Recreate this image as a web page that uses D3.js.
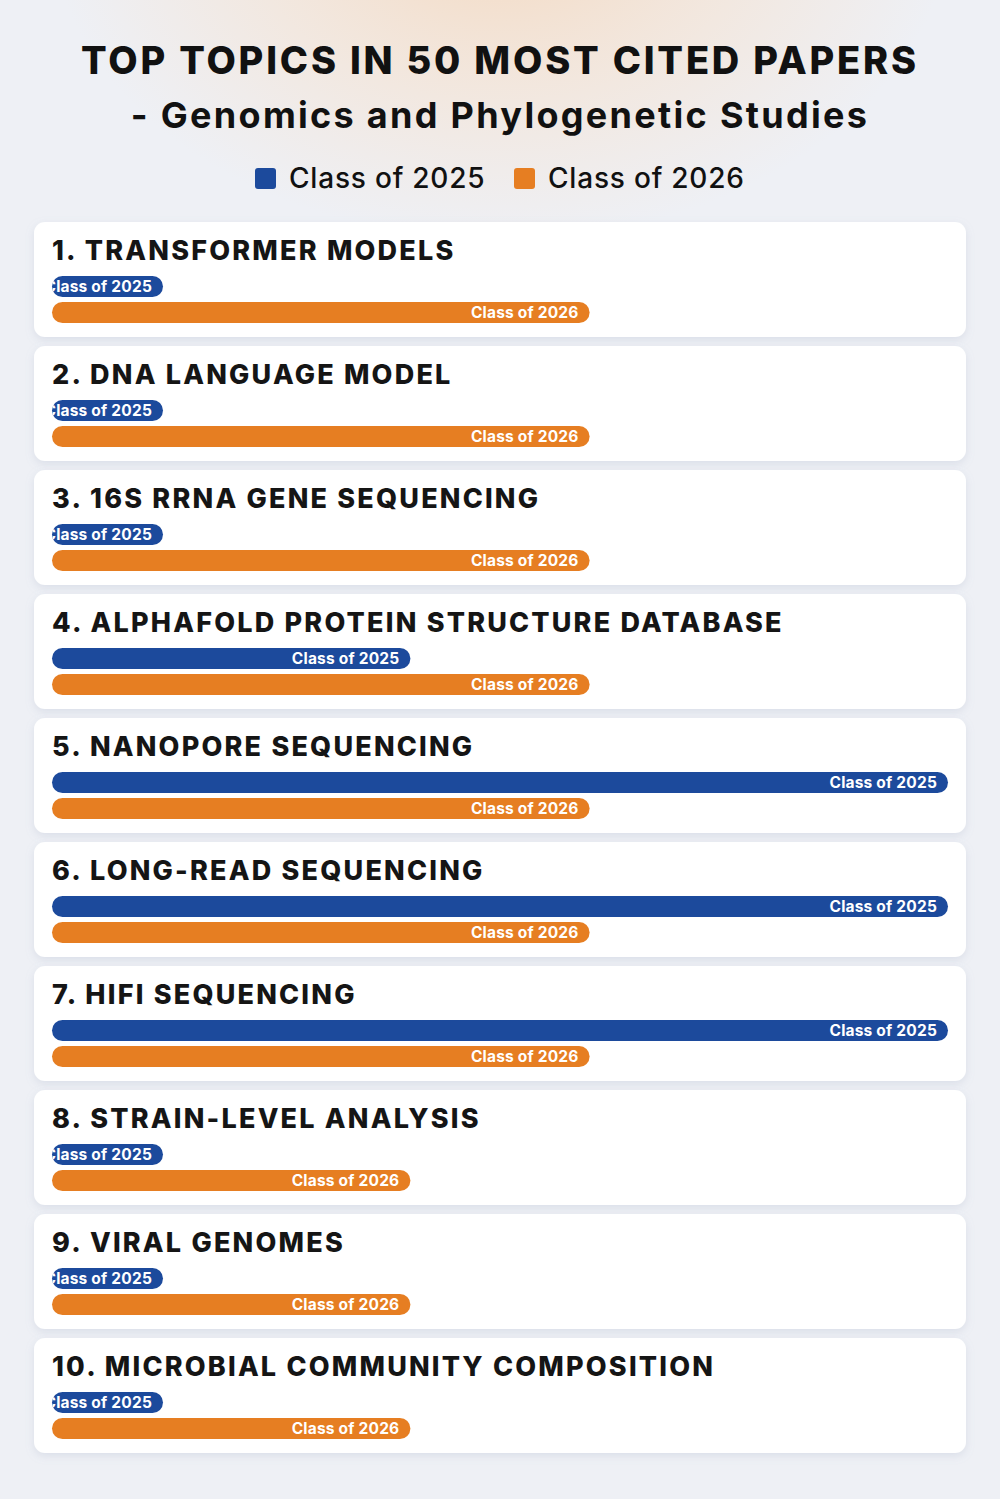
<!DOCTYPE html>
<html>
<head>
<meta charset="utf-8">
<script src="https://cdn.jsdelivr.net/npm/d3@7"></script>
<style>
  html, body { margin: 0; padding: 0; background: #eef0f5; }
  svg { display: block; font-family: Inter, "Open Sans", sans-serif; }
</style>
</head>
<body>
<div class="box"></div>
<script>
// DATA
const topics = [
  '1. TRANSFORMER MODELS',
  '2. DNA LANGUAGE MODEL',
  '3. 16S RRNA GENE SEQUENCING',
  '4. ALPHAFOLD PROTEIN STRUCTURE DATABASE',
  '5. NANOPORE SEQUENCING',
  '6. LONG-READ SEQUENCING',
  '7. HIFI SEQUENCING',
  '8. STRAIN-LEVEL ANALYSIS',
  '9. VIRAL GENOMES',
  '10. MICROBIAL COMMUNITY COMPOSITION'
];
const seriesNames = ['Class of 2025', 'Class of 2026'];
const class2025 = [0, 0, 0, 2, 5, 5, 5, 0, 0, 0];
const class2026 = [3, 3, 3, 3, 3, 3, 3, 2, 2, 2];
const titleLines = ['TOP TOPICS IN 50 MOST CITED PAPERS', '- Genomics and Phylogenetic Studies'];

// SETUP
const dims = {width: 1000, height: 1499};
const colors = d3.scaleOrdinal().domain(seriesNames).range(['#1c4a9c', '#e67e22']);

const svg = d3.select('.box')
              .append('svg')
              .attr('width', dims.width)
              .attr('height', dims.height);

const defs = svg.append('defs');

// background glows
const warm = defs.append('radialGradient').attr('id', 'warm')
                 .attr('cx', 0.5).attr('cy', 0.0).attr('r', 0.5);
warm.append('stop').attr('offset', '0%').attr('stop-color', '#f4d8be').attr('stop-opacity', 1);
warm.append('stop').attr('offset', '55%').attr('stop-color', '#f4e4d6').attr('stop-opacity', 0.7);
warm.append('stop').attr('offset', '100%').attr('stop-color', '#f4e4d6').attr('stop-opacity', 0);

const cool = defs.append('radialGradient').attr('id', 'cool')
                 .attr('cx', 0.5).attr('cy', 1.0).attr('r', 0.5);
cool.append('stop').attr('offset', '0%').attr('stop-color', '#bfcbe2').attr('stop-opacity', 1);
cool.append('stop').attr('offset', '60%').attr('stop-color', '#d3dbea').attr('stop-opacity', 0.6);
cool.append('stop').attr('offset', '100%').attr('stop-color', '#d3dbea').attr('stop-opacity', 0);

const shadow = defs.append('filter').attr('id', 'shadow')
                   .attr('x', -0.05).attr('y', -0.2).attr('width', 1.1).attr('height', 1.5);
shadow.append('feDropShadow').attr('dx', 0).attr('dy', 3).attr('stdDeviation', 4)
      .attr('flood-color', '#8a96b8').attr('flood-opacity', 0.2);

svg.append('rect').attr('width', dims.width).attr('height', dims.height).attr('fill', '#eef0f5');
svg.append('rect').attr('x', 50).attr('y', -80).attr('width', 900).attr('height', 640).attr('fill', 'url(#warm)');
svg.append('rect').attr('x', 80).attr('y', 1100).attr('width', 840).attr('height', 800).attr('fill', 'url(#cool)');

// TITLE
svg.append('text')
   .attr('x', 500).attr('y', 74)
   .attr('text-anchor', 'middle')
   .attr('font-size', 38).attr('font-weight', 800)
   .attr('letter-spacing', 2.8)
   .attr('fill', '#111')
   .text(titleLines[0]);
svg.append('text')
   .attr('x', 500).attr('y', 128)
   .attr('text-anchor', 'middle')
   .attr('font-size', 36).attr('font-weight', 700)
   .attr('letter-spacing', 2.3)
   .attr('fill', '#111')
   .text(titleLines[1]);

// LEGEND
const legend = svg.append('g').attr('transform', 'translate(255, 168)');
const legItems = legend.selectAll('g')
                       .data(seriesNames)
                       .enter().append('g')
                       .attr('transform', (d, i) => `translate(${i * 259}, 0)`);
legItems.append('rect')
        .attr('width', 21).attr('height', 21).attr('rx', 3)
        .attr('fill', d => colors(d));
legItems.append('text')
        .attr('x', 34).attr('y', 20)
        .attr('font-size', 28).attr('font-weight', 500)
        .attr('letter-spacing', 0.8)
        .attr('fill', '#111')
        .text(d => d);

// CARDS
const card = {x: 34, y0: 222, w: 932, h: 115, step: 124};
const x = d3.scaleLinear().domain([0, 5]).range([52, 948]);
const minBar = 111;
const bar = {h: 21, off2025: 54, off2026: 80};

const rows = topics.map((t, i) => ({
  topic: t,
  bars: [
    {name: seriesNames[0], value: class2025[i], id: `c${i}a`},
    {name: seriesNames[1], value: class2026[i], id: `c${i}b`}
  ]
}));

const cards = svg.selectAll('g.card')
                 .data(rows)
                 .enter().append('g')
                 .attr('class', 'card')
                 .attr('transform', (d, i) => `translate(0, ${card.y0 + i * card.step})`);

cards.append('rect')
     .attr('x', card.x).attr('width', card.w)
     .attr('height', card.h).attr('rx', 11)
     .attr('fill', '#fff')
     .attr('filter', 'url(#shadow)');

cards.append('text')
     .attr('x', 52).attr('y', 38)
     .attr('font-size', 27).attr('font-weight', 800)
     .attr('letter-spacing', 2.2)
     .attr('fill', '#151515')
     .text(d => d.topic);

const barEnd = d => Math.max(x(d.value), x(0) + minBar);

const bars = cards.selectAll('g.bar')
                  .data(d => d.bars)
                  .enter().append('g')
                  .attr('class', 'bar')
                  .attr('transform', (d, i) => `translate(0, ${i === 0 ? bar.off2025 : bar.off2026})`);

bars.append('clipPath')
    .attr('id', d => d.id)
    .append('rect')
    .attr('x', x(0)).attr('width', d => barEnd(d) - x(0))
    .attr('height', bar.h).attr('rx', bar.h / 2);

bars.append('rect')
    .attr('x', x(0)).attr('width', d => barEnd(d) - x(0))
    .attr('height', bar.h).attr('rx', bar.h / 2)
    .attr('fill', d => colors(d.name));

bars.append('text')
    .attr('clip-path', d => `url(#${d.id})`)
    .attr('x', d => barEnd(d) - 11)
    .attr('y', bar.h / 2 + 5.5)
    .attr('text-anchor', 'end')
    .attr('font-size', 15.5).attr('font-weight', 700)
    .attr('letter-spacing', 0.2)
    .attr('fill', '#fff')
    .text(d => d.name);
</script>
</body>
</html>
